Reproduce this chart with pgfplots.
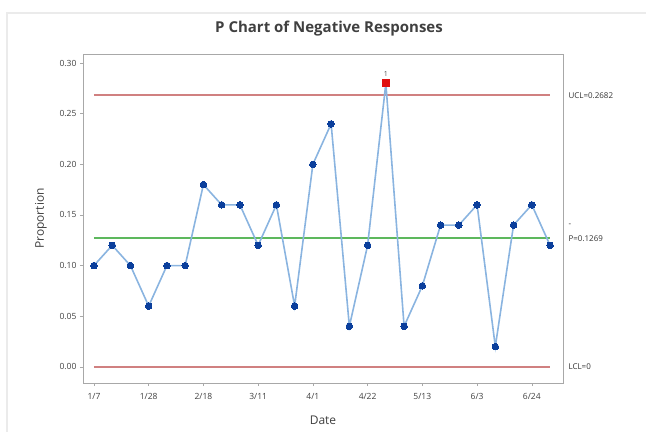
\documentclass[border=0pt]{standalone}
\usepackage{pgfplots}
\pgfplotsset{compat=1.18}
\usepackage{fontspec}
\setmainfont{Open Sans}
\definecolor{lineblue}{HTML}{8AB4E0}
\definecolor{markblue}{HTML}{0B3F9C}
\definecolor{limred}{HTML}{D08080}
\definecolor{ctrgreen}{HTML}{5DB85D}
\definecolor{ptred}{HTML}{E01010}
\definecolor{axgray}{HTML}{A8A8A8}
\begin{document}
\begin{tikzpicture}
\useasboundingbox (0pt,0pt) rectangle (646pt,432pt);
\draw[color=black!8,line width=1.2pt] (7pt,0pt) -- (7pt,419pt) -- (646pt,419pt);
\node[font=\fontsize{15}{18}\selectfont\bfseries,text=black!75] at (329pt,403pt) {P Chart of Negative Responses};
\begin{axis}[
  at={(83pt,49pt)}, anchor=south west,
  scale only axis, width=480pt, height=329pt,
  xmin=-0.6, xmax=25.71, ymin=-0.016, ymax=0.309,
  xtick={0,3,6,9,12,15,18,21,24},
  xticklabels={1/7,1/28,2/18,3/11,4/1,4/22,5/13,6/3,6/24},
  ytick={0,0.05,0.10,0.15,0.20,0.25,0.30},
  yticklabel style={/pgf/number format/.cd,fixed,fixed zerofill,precision=2,assume math mode=true},
  tick label style={font=\fontsize{8.5}{9}\selectfont,text=black!75},
  xticklabel style={yshift=-4pt},
  tick align=outside, xtick pos=bottom, ytick pos=left,
  major tick length=3pt,
  tick style={axgray,line width=0.5pt},
  axis line style={axgray,line width=0.8pt},
  xlabel={Date}, ylabel={Proportion},
  label style={font=\fontsize{12}{14}\selectfont,text=black!75},
  xlabel style={yshift=-9pt},
  ylabel style={yshift=6pt},
  clip=false,
]
\addplot[limred,line width=2pt] coordinates {(0,0.2682) (25,0.2682)};
\addplot[limred,line width=2pt] coordinates {(0,0) (25,0)};
\addplot[ctrgreen,line width=2pt] coordinates {(0,0.1269) (25,0.1269)};
\addplot[lineblue,line width=1.6pt,mark=*,mark size=3.3pt,mark options={markblue,fill=markblue,line width=0pt}] coordinates {
(0,0.10) (1,0.12) (2,0.10) (3,0.06) (4,0.10) (5,0.10) (6,0.18) (7,0.16) (8,0.16) (9,0.12)
(10,0.16) (11,0.06) (12,0.20) (13,0.24) (14,0.04) (15,0.12) (16,0.28) (17,0.04) (18,0.08) (19,0.14)
(20,0.14) (21,0.16) (22,0.02) (23,0.14) (24,0.16) (25,0.12)};
\addplot[only marks,mark=square*,mark size=3.4pt,mark options={ptred,fill=ptred,line width=0pt}] coordinates {(16,0.28)};
\node[font=\fontsize{7}{8}\selectfont,text=black!70,anchor=south] at (axis cs:16,0.28) [yshift=3pt] {1};
\node[font=\fontsize{8}{9}\selectfont,text=black!80,anchor=west] at (axis cs:25.71,0.2682) [xshift=2pt] {UCL=0.2682};
\node[font=\fontsize{8}{9}\selectfont,text=black!80,anchor=west] at (axis cs:25.71,0.1269) [xshift=2pt] {P=0.1269};
\node[font=\fontsize{8}{9}\selectfont,text=black!80,anchor=west] at (axis cs:25.71,0.1269) [xshift=2pt,yshift=13pt] {-};
\node[font=\fontsize{8}{9}\selectfont,text=black!80,anchor=west] at (axis cs:25.71,0) [xshift=2pt] {LCL=0};
\end{axis}
\end{tikzpicture}
\end{document}
